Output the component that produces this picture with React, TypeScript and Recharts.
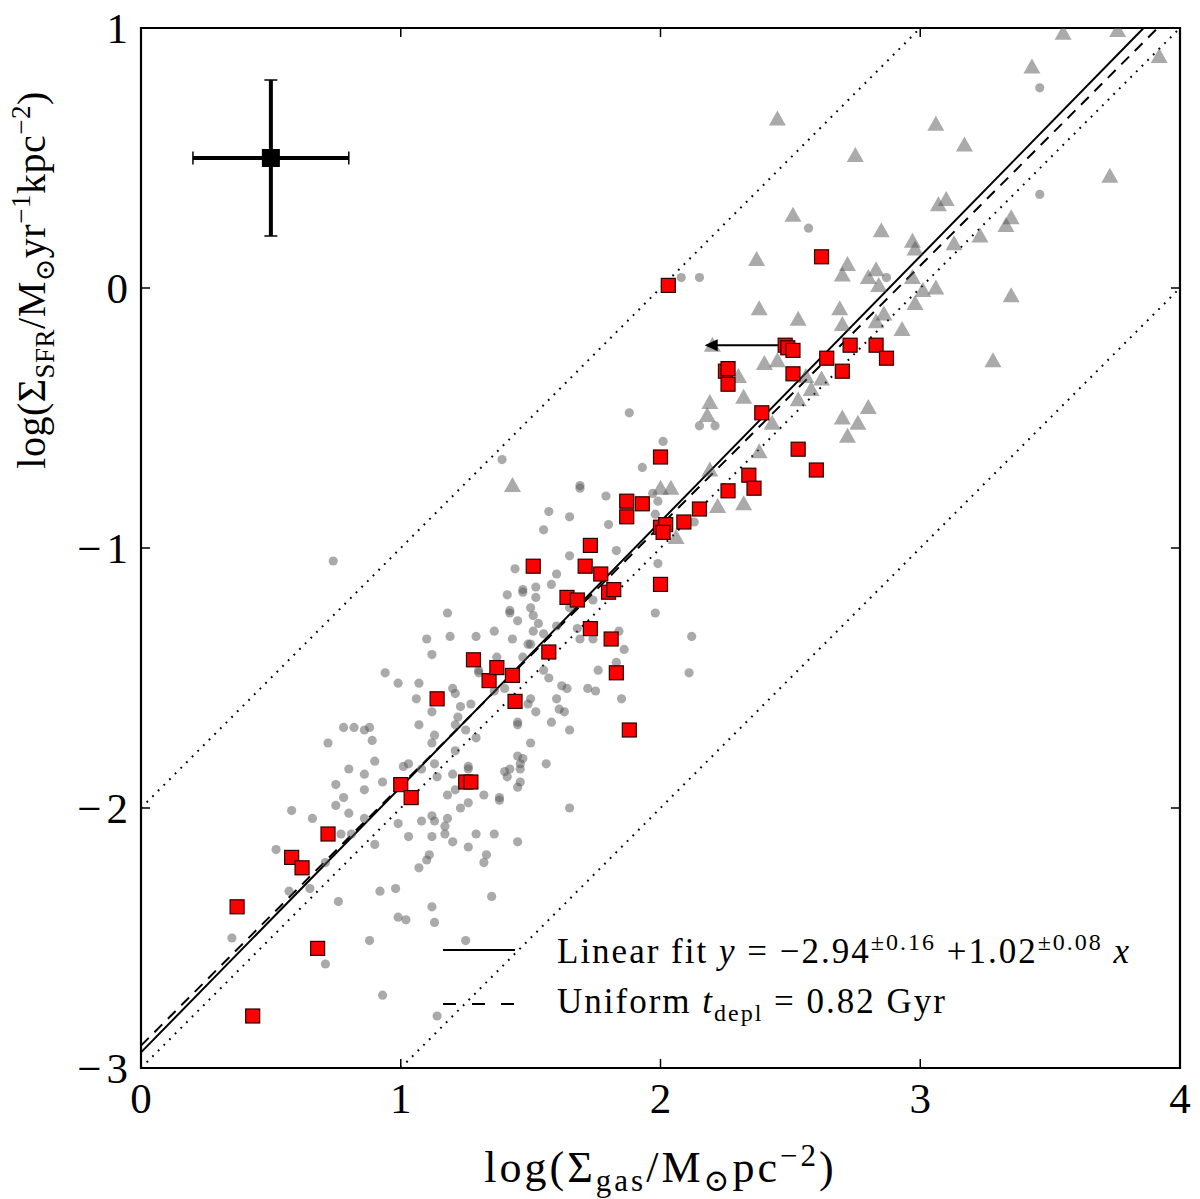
import { ComposedChart, Scatter, XAxis, YAxis, ReferenceLine, ReferenceArea, ErrorBar } from "recharts";

const FONT = "'Liberation Serif', 'DejaVu Serif', serif";

const xTicks = [0, 1, 2, 3, 4];
const yTicks = [-3, -2, -1, 0, 1];
const innerXTicks = [1, 2, 3];
const innerYTicks = [-2, -1, 0];

// gray dots: comparison sample
const grayDots = [
  [0.35, -2.5], [0.71, -2.6], [0.93, -2.72], [1.14, -2.8],
  [0.57, -2.32], [0.65, -2.31], [0.76, -2.36], [0.92, -2.32], [0.98, -2.31], [1.12, -2.38], [0.99, -2.42],
  [1.02, -2.43], [1.13, -2.44], [0.88, -2.51], [1.25, -2.51], [1.35, -2.34],
  [0.58, -2.01], [0.66, -2.04], [0.52, -2.16], [0.71, -2.21], [0.77, -2.1], [0.81, -2.1], [0.9, -2.14],
  [0.75, -1.99], [0.78, -1.96], [0.8, -2.02], [0.86, -2.04], [0.75, -1.91], [0.86, -1.93], [0.93, -1.9],
  [0.8, -1.85], [0.86, -1.87], [0.9, -1.82], [0.72, -1.75], [0.78, -1.69], [0.82, -1.69], [0.86, -1.7],
  [0.88, -1.69], [0.89, -1.74], [1.07, -1.68], [1.12, -1.63], [1.13, -1.72], [1.12, -1.75],
  [0.99, -2.06], [1.03, -2.11], [1.08, -2.05], [1.12, -2.03], [1.13, -2.05], [1.12, -2.11], [1.11, -2.18],
  [1.1, -2.2], [1.07, -2.23], [1.01, -1.84], [1.03, -1.83], [1.08, -1.85], [1.13, -1.83], [1.14, -1.88],
  [1.18, -2.04], [1.17, -2.07], [1.17, -2.1], [1.2, -2.13], [1.26, -2.15], [1.29, -2.1], [1.36, -2.1],
  [1.33, -2.18], [1.32, -2.21], [1.45, -2.13], [1.32, -1.95], [1.23, -2.0], [1.26, -1.98], [1.38, -1.97],
  [1.38, -1.96], [1.4, -1.86], [1.42, -1.85], [1.41, -1.88], [1.46, -1.83], [1.47, -1.81], [1.45, -1.8],
  [1.46, -1.85], [1.46, -1.9], [1.45, -1.92], [1.21, -1.78], [1.2, -1.87], [1.21, -1.93], [1.18, -1.95],
  [1.26, -1.84], [1.26, -1.85],
  [1.12, -1.41], [0.94, -1.48], [0.99, -1.52], [1.07, -1.52], [1.06, -1.58], [1.2, -1.54], [1.21, -1.56],
  [1.23, -1.61], [1.27, -1.6], [1.22, -1.65], [1.25, -1.7], [1.29, -1.73], [1.21, -1.68], [1.3, -1.48],
  [1.3, -1.47], [1.37, -1.42], [1.36, -1.55], [1.4, -1.54], [1.47, -1.42], [1.49, -1.37], [1.45, -1.67],
  [1.45, -1.68], [1.5, -1.75], [1.52, -1.63], [1.49, -1.6], [1.5, -1.58], [1.58, -1.67], [1.65, -1.7],
  [1.61, -1.62], [1.63, -1.63], [1.56, -1.83], [1.65, -2.0], [1.6, -1.58], [1.62, -1.53], [1.64, -1.54],
  [1.72, -1.54], [1.75, -1.55], [1.85, -1.58], [1.76, -1.47], [1.86, -1.39], [1.84, -1.32], [1.83, -1.44],
  [1.74, -1.35], [1.69, -1.35], [1.68, -1.31], [1.74, -1.2], [1.65, -1.23], [1.55, -1.47], [1.57, -1.5],
  [1.18, -1.25], [1.36, -1.32], [1.29, -1.34], [1.51, -1.32], [1.43, -1.35], [1.55, -1.33], [1.1, -1.35],
  [1.19, -1.34], [1.5, -1.37], [1.65, -1.03], [1.83, -1.01], [1.44, -1.08], [1.6, -1.1], [1.58, -1.14],
  [1.52, -1.15], [1.47, -1.17], [1.47, -1.16], [1.41, -1.18], [1.52, -1.19], [1.5, -1.23], [1.42, -1.25],
  [1.42, -1.24], [1.51, -1.26], [1.45, -1.28], [1.53, -1.29], [1.6, -1.3],
  [1.88, -0.48], [2.01, -0.59], [2.15, -0.53], [2.21, -0.53], [1.93, -0.69], [1.79, -0.8], [1.99, -0.82],
  [1.69, -0.77], [1.69, -0.76], [1.57, -0.86], [1.65, -0.88], [1.8, -0.91], [1.55, -0.93], [1.98, -0.87],
  [2.13, -0.9], [1.39, -0.66], [1.99, -1.06], [1.98, -1.25], [2.12, -1.34], [1.97, -0.79], [2.11, -1.48],
  [3.46, 0.77], [3.46, 0.36], [2.57, 0.23], [2.08, 0.04], [2.15, 0.04], [2.87, 0.04],
  [0.74, -1.05],
];

// gray triangles: high-surface-density sample
const grayTriangles = [
  [3.55, 0.98], [3.76, 0.99], [3.92, 0.89], [3.43, 0.85], [2.45, 0.65], [3.06, 0.63], [3.17, 0.55],
  [2.75, 0.51], [3.73, 0.43], [3.07, 0.32], [3.1, 0.34], [2.51, 0.28], [3.35, 0.27], [3.33, 0.24],
  [2.85, 0.22], [3.23, 0.2], [2.97, 0.18], [2.98, 0.15], [3.13, 0.17], [2.37, 0.11], [2.72, 0.09],
  [2.7, 0.05], [2.83, 0.07], [2.8, 0.04], [2.84, 0.01], [2.97, 0.04], [3.06, 0.0], [3.01, -0.01],
  [3.35, -0.03], [2.38, -0.08], [2.69, -0.08], [2.98, -0.06], [2.53, -0.12], [2.7, -0.14], [2.86, -0.1],
  [2.83, -0.13], [2.93, -0.16], [3.28, -0.28], [2.2, -0.22], [2.4, -0.29], [2.45, -0.28], [2.3, -0.34],
  [2.56, -0.34], [2.62, -0.35], [2.58, -0.39], [2.32, -0.42], [2.53, -0.43], [2.19, -0.44], [2.18, -0.49],
  [2.43, -0.52], [2.8, -0.46], [2.7, -0.5], [2.76, -0.52], [2.72, -0.57], [2.38, -0.63], [2.19, -0.7],
  [2.0, -0.77], [2.04, -0.77], [2.22, -0.84], [2.32, -0.83], [1.43, -0.76], [2.06, -0.96],
];

// red squares: this work
const redSquares = [
  [0.37, -2.38], [0.43, -2.8], [0.58, -2.19], [0.62, -2.23], [0.68, -2.54], [0.72, -2.1], [1.0, -1.91],
  [1.04, -1.96], [1.14, -1.58], [1.25, -1.9], [1.27, -1.9], [1.28, -1.43], [1.34, -1.51], [1.37, -1.46],
  [1.43, -1.49], [1.44, -1.59], [1.51, -1.07], [1.57, -1.4], [1.71, -1.07], [1.73, -0.99], [1.77, -1.1],
  [1.64, -1.19], [1.68, -1.2], [1.8, -1.17], [1.82, -1.16], [1.73, -1.31], [1.81, -1.35], [1.83, -1.48],
  [1.88, -1.7], [1.87, -0.82], [1.93, -0.83], [1.87, -0.88], [2.0, -0.65], [2.0, -0.92], [2.02, -0.91],
  [2.01, -0.94], [2.0, -1.14], [2.09, -0.9], [2.15, -0.85], [2.26, -0.78], [2.34, -0.72], [2.36, -0.77],
  [2.39, -0.48], [2.53, -0.62], [2.6, -0.7], [2.25, -0.32], [2.26, -0.31], [2.26, -0.37], [2.48, -0.22],
  [2.49, -0.23], [2.51, -0.24], [2.51, -0.33], [2.64, -0.27], [2.7, -0.32], [2.73, -0.22], [2.83, -0.22],
  [2.87, -0.27], [2.62, 0.12], [2.03, 0.01],
];

const typicalError = [{ x: 0.5, y: 0.5, ex: 0.3, ey: 0.3 }];
const upperLimit = { from: 2.48, to: 2.17, y: -0.22 };

const fitLine = [{ x: 0, y: -2.94 }, { x: 3.86, y: 1 }];
const uniformLine = [{ x: 0, y: -2.914 }, { x: 3.914, y: 1 }];
const depletionLines = [
  [{ x: 0, y: -2 }, { x: 3, y: 1 }],
  [{ x: 0, y: -3 }, { x: 4, y: 1 }],
  [{ x: 1, y: -3 }, { x: 4, y: 0 }],
];

const toPoints = (arr: number[][]) => arr.map(([x, y]) => ({ x, y }));

const GRAY = "#555";

const GrayDot = (p: any) => <circle cx={p.cx} cy={p.cy} r={4.6} fill={GRAY} fillOpacity={0.5} />;
const GrayTriangle = (p: any) => (
  <polygon
    points={`${p.cx},${p.cy - 8.5} ${p.cx - 8.5},${p.cy + 6.5} ${p.cx + 8.5},${p.cy + 6.5}`}
    fill={GRAY}
    fillOpacity={0.5}
  />
);
const RedSquare = (p: any) => (
  <rect x={p.cx - 7} y={p.cy - 7} width={14} height={14} fill="#ff0000" stroke="#2a0000" strokeWidth={1.2} />
);
const BlackSquare = (p: any) => <rect x={p.cx - 9} y={p.cy - 9} width={18} height={18} fill="#000" />;
const ArrowHead = (p: any) => (
  <polygon points={`${p.cx},${p.cy} ${p.cx + 13},${p.cy - 6} ${p.cx + 13},${p.cy + 6}`} fill="#000" />
);

const fmtY = (v: number) => (v < 0 ? `\u2212${-v}` : `${v}`);
const TICK = 0.035;

const legendRow = {
  position: "absolute" as const,
  left: 443,
  height: 44,
  display: "flex",
  alignItems: "center",
  fontSize: 35,
  letterSpacing: 2,
  whiteSpace: "nowrap" as const,
};

export default function App() {
  return (
    <div style={{ position: "absolute", left: 0, top: 0, width: 1200, height: 1199, background: "#fff", fontFamily: FONT }}>
      <ComposedChart width={1200} height={1199} margin={{ top: 28, right: 20, bottom: 81, left: 81 }}>
        <XAxis
          type="number"
          dataKey="x"
          domain={[0, 4]}
          ticks={xTicks}
          allowDataOverflow
          axisLine={false}
          tickLine={false}
          tickSize={0}
          tickMargin={14}
          height={50}
          tick={{ fontSize: 43, fill: "#000", fontFamily: FONT }}
        />
        <YAxis
          type="number"
          dataKey="y"
          domain={[-3, 1]}
          ticks={yTicks}
          allowDataOverflow
          axisLine={false}
          tickLine={false}
          tickSize={0}
          tickMargin={8}
          width={60}
          tickFormatter={fmtY}
          tick={{ fontSize: 43, fill: "#000", fontFamily: FONT, letterSpacing: 5 }}
        />

        <Scatter data={toPoints(grayDots)} shape={GrayDot} isAnimationActive={false} />
        <Scatter data={toPoints(grayTriangles)} shape={GrayTriangle} isAnimationActive={false} />

        {depletionLines.map((seg, i) => (
          <ReferenceLine key={`d${i}`} segment={seg} stroke="#000" strokeWidth={2} strokeDasharray="1.8 6.2" />
        ))}
        <ReferenceLine segment={uniformLine} stroke="#000" strokeWidth={2} strokeDasharray="11 8" />
        <ReferenceLine segment={fitLine} stroke="#000" strokeWidth={2} />

        <ReferenceLine
          segment={[{ x: upperLimit.from, y: upperLimit.y }, { x: upperLimit.to + 0.04, y: upperLimit.y }]}
          stroke="#000"
          strokeWidth={2}
        />
        <Scatter data={[{ x: upperLimit.to, y: upperLimit.y }]} shape={ArrowHead} isAnimationActive={false} />

        <Scatter data={toPoints(redSquares)} shape={RedSquare} isAnimationActive={false} />

        <Scatter data={typicalError} shape={BlackSquare} isAnimationActive={false}>
          <ErrorBar dataKey="ex" direction="x" width={0} strokeWidth={4} stroke="#000" />
          <ErrorBar dataKey="ey" direction="y" width={0} strokeWidth={4} stroke="#000" />
          <ErrorBar dataKey="ex" direction="x" width={6.5} strokeWidth={1.5} stroke="#000" />
          <ErrorBar dataKey="ey" direction="y" width={6.5} strokeWidth={1.5} stroke="#000" />
        </Scatter>

        {innerXTicks.map((t) => (
          <ReferenceLine key={`xb${t}`} segment={[{ x: t, y: -3 }, { x: t, y: -3 + TICK }]} stroke="#000" strokeWidth={1.5} />
        ))}
        {innerXTicks.map((t) => (
          <ReferenceLine key={`xt${t}`} segment={[{ x: t, y: 1 }, { x: t, y: 1 - TICK }]} stroke="#000" strokeWidth={1.5} />
        ))}
        {innerYTicks.map((t) => (
          <ReferenceLine key={`yl${t}`} segment={[{ x: 0, y: t }, { x: TICK, y: t }]} stroke="#000" strokeWidth={1.5} />
        ))}
        {innerYTicks.map((t) => (
          <ReferenceLine key={`yr${t}`} segment={[{ x: 4, y: t }, { x: 4 - TICK, y: t }]} stroke="#000" strokeWidth={1.5} />
        ))}

        <ReferenceArea x1={0} x2={4} y1={-3} y2={1} fill="none" fillOpacity={0} stroke="#000" strokeWidth={2.2} />
      </ComposedChart>

      {/* legend */}
      <div style={{ ...legendRow, top: 928 }}>
        <svg width={72} height={10} style={{ marginRight: 42 }}>
          <line x1={0} y1={5} x2={72} y2={5} stroke="#000" strokeWidth={2} />
        </svg>
        <span>
          Linear fit <i>y</i> = −2.94<sup style={{ fontSize: 24 }}>±0.16</sup> +1.02<sup style={{ fontSize: 24 }}>±0.08</sup> <i>x</i>
        </span>
      </div>
      <div style={{ ...legendRow, top: 982 }}>
        <svg width={72} height={10} style={{ marginRight: 42 }}>
          <line x1={0} y1={5} x2={72} y2={5} stroke="#000" strokeWidth={2} strokeDasharray="13 16" />
        </svg>
        <span>
          Uniform <i>t</i><sub style={{ fontSize: 24 }}>depl</sub> = 0.82 Gyr
        </span>
      </div>

      {/* axis labels */}
      <div
        style={{
          position: "absolute",
          left: 141,
          width: 1039,
          top: 1126,
          textAlign: "center",
          fontSize: 44,
          letterSpacing: 3,
          lineHeight: "60px",
          whiteSpace: "nowrap",
        }}
      >
        log(Σ<sub style={{ fontSize: 31 }}>gas</sub>/M<sub style={{ fontSize: 31 }}>⊙</sub>pc<sup style={{ fontSize: 31 }}>−2</sup>)
      </div>
      <div
        style={{
          position: "absolute",
          left: 33,
          top: 280,
          transform: "translate(-50%, -50%) rotate(-90deg)",
          fontSize: 40,
          letterSpacing: 0.5,
          lineHeight: "60px",
          whiteSpace: "nowrap",
        }}
      >
        log(Σ<sub style={{ fontSize: 27 }}>SFR</sub>/M<sub style={{ fontSize: 27 }}>⊙</sub>yr<sup style={{ fontSize: 27 }}>−1</sup>kpc<sup style={{ fontSize: 27 }}>−2</sup>)
      </div>
    </div>
  );
}
